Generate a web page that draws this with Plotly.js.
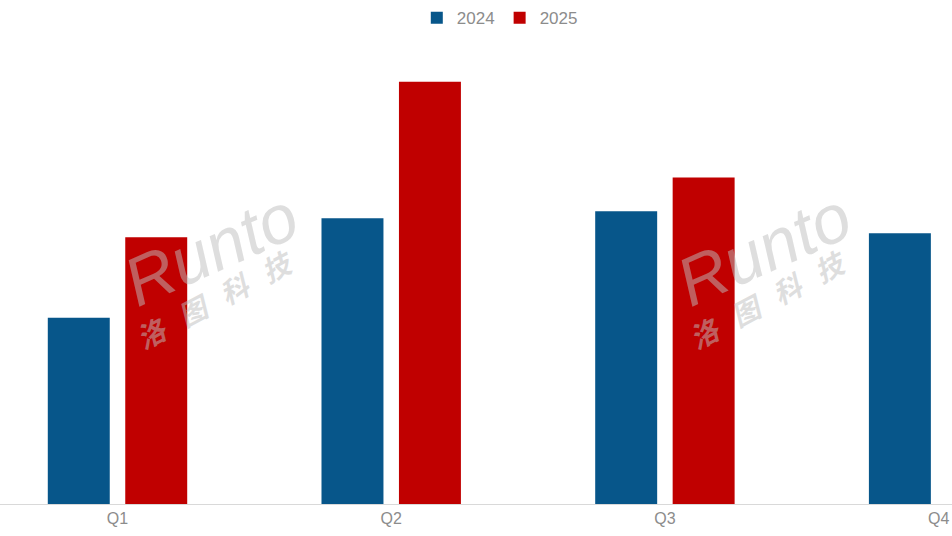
<!DOCTYPE html>
<html>
<head>
<meta charset="utf-8">
<script src="https://cdn.plot.ly/plotly-3.0.1.min.js"></script>
<style>html,body{margin:0;padding:0;background:#fff;}#chart{width:952px;height:536px;}</style>
</head>
<body>
<div id="chart"></div>
<script>
const categories = ["Q1", "Q2", "Q3", "Q4"];
const series2024 = [18.7, 28.7, 29.4, 27.2];
const series2025 = [26.8, 42.4, 32.8, null];
const seriesNames = ["2024", "2025"];

const traces = [
  {type: "bar", name: seriesNames[0], x: categories, y: series2024,
   marker: {color: "#07568a"}, hoverinfo: "x+y"},
  {type: "bar", name: seriesNames[1], x: categories, y: series2025,
   marker: {color: "#c00000"}, hoverinfo: "x+y"}
];

const W = 952, plotTop = 50, plotBottom = 504, H = plotBottom - plotTop;
function px(x){ return x / W; }
function py(y){ return (plotBottom - y) / H; }

const wm = [];
[0, 553].forEach(function(dx){
  wm.push({xref: "paper", yref: "paper", x: px(210 + dx), y: py(248), xanchor: "center", yanchor: "middle",
    text: "Runto", showarrow: false, textangle: -24,
    font: {family: "Liberation Sans, Arial", size: 68, style: "italic", color: "rgba(190,190,190,0.5)"}});
  wm.push({xref: "paper", yref: "paper", x: px(214 + dx), y: py(298), xanchor: "center", yanchor: "middle",
    text: "<b>洛   图   科   技</b>", showarrow: false, textangle: -28,
    font: {family: "Noto Sans CJK SC", size: 28, style: "italic", color: "rgba(190,190,190,0.5)"}});
});

const layout = {
  width: 952, height: 536,
  margin: {l: 0, r: 0, t: plotTop, b: 536 - plotBottom, pad: 0},
  paper_bgcolor: "#ffffff", plot_bgcolor: "#ffffff",
  barmode: "group", bargap: 0.434, bargroupgap: 0.2,
  showlegend: true,
  legend: {orientation: "h", x: 0.525, xanchor: "center", y: py(16), yanchor: "middle",
    font: {family: "Liberation Sans, Arial", size: 17, color: "#8c8c8c"},
    itemwidth: 30, traceorder: "normal"},
  xaxis: {range: [-0.4293, 3.0489], showgrid: false, zeroline: false,
    showline: true, linecolor: "#d9d9d9", linewidth: 1, ticks: "",
    tickfont: {family: "Liberation Sans, Arial", size: 16, color: "#8c8c8c"}, fixedrange: true},
  yaxis: {range: [0, H / 10], visible: false, showgrid: false, zeroline: false, fixedrange: true},
  annotations: wm
};

Plotly.newPlot("chart", traces, layout, {displayModeBar: false, staticPlot: true});
</script>
</body>
</html>
